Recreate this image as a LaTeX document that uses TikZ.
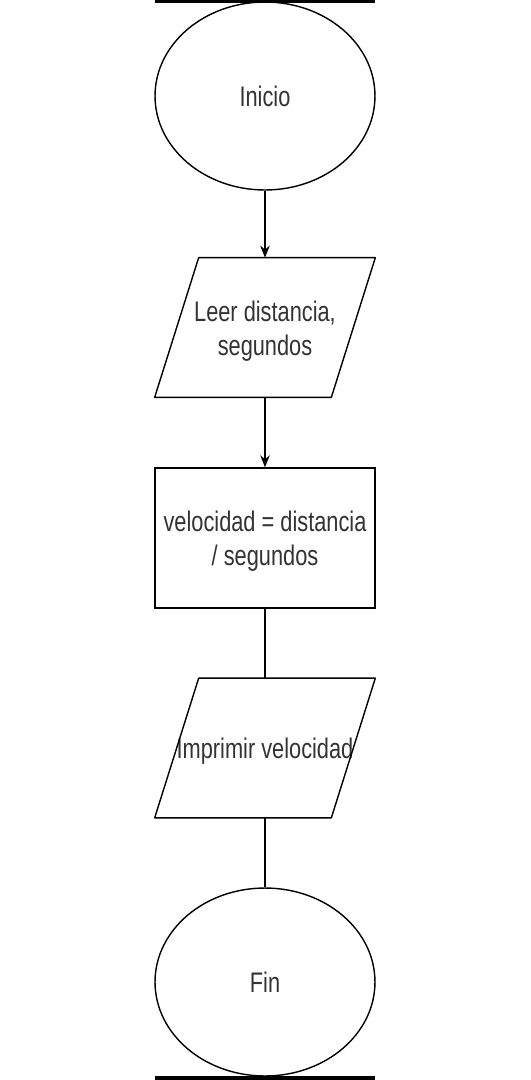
\documentclass[tikz,border=0pt]{standalone}
\usepackage{fontspec}
\setmainfont{Liberation Sans}
\usepackage{graphicx}
\usepackage{tikz}
\usetikzlibrary{shapes.geometric, arrows.meta, positioning}
\definecolor{mytext}{RGB}{51,51,51}
\definecolor{mydark}{RGB}{0,0,0}
\newcommand{\flowlbl}[1]{\raisebox{-0.08cm}[\height][\depth]{\makebox[0pt]{\scalebox{1}[1.3]{\begin{tabular}{@{}c@{}}#1\end{tabular}}}}}
\tikzset{
  terminal/.style={ellipse, draw=mydark, line width=0.8pt, minimum width=4.4cm, minimum height=3.76cm, inner sep=0pt, text=mytext, font=\fontsize{12.4}{14.8}\selectfont},
  iobox/.style={rectangle, minimum width=4.4cm, minimum height=2.78cm, inner sep=0pt, text=mytext, font=\fontsize{12.4}{14.8}\selectfont},
  procbox/.style={rectangle, draw=mydark, line width=0.8pt, minimum width=4.4cm, minimum height=2.8cm, inner sep=0pt, text=mytext, font=\fontsize{12.4}{14.8}\selectfont},
  arrow/.style={-{Stealth[length=0.24cm, width=0.19cm]}, line width=0.8pt, color=mydark},
  line/.style={line width=0.8pt, color=mydark}
}
\begin{document}
\begin{tikzpicture}[x=0.02cm, y=-0.02cm]
  \useasboundingbox (0,0) rectangle (531,1080);
  % Page edges
  \fill[mydark] (155,0) rectangle (375,2.5);
  \fill[mydark] (155,1075.5) rectangle (375,1080);

  % Nodes
  \node[terminal] (inicio) at (265,96) {\flowlbl{Inicio}};
  \node[iobox] (leer) at (265,327.5) {\flowlbl{Leer distancia,\\segundos}};
  \node[procbox] (calc) at (265,538) {\flowlbl{velocidad = distancia\\/ segundos}};
  \node[iobox] (imprimir) at (265,748) {\flowlbl{Imprimir velocidad}};
  \node[terminal] (fin) at (265,982) {\flowlbl{Fin}};

  % Parallelogram outlines
  \foreach \n in {leer, imprimir}
    \draw[line, line join=round] ([xshift=0.88cm]\n.north west) -- (\n.north east)
      -- ([xshift=-0.88cm]\n.south east) -- (\n.south west) -- cycle;

  % Connectors
  \draw[arrow] (inicio) -- (leer);
  \draw[arrow] (leer) -- (calc);
  \draw[line] (calc) -- (imprimir);
  \draw[line] (imprimir) -- (fin);
\end{tikzpicture}
\end{document}
